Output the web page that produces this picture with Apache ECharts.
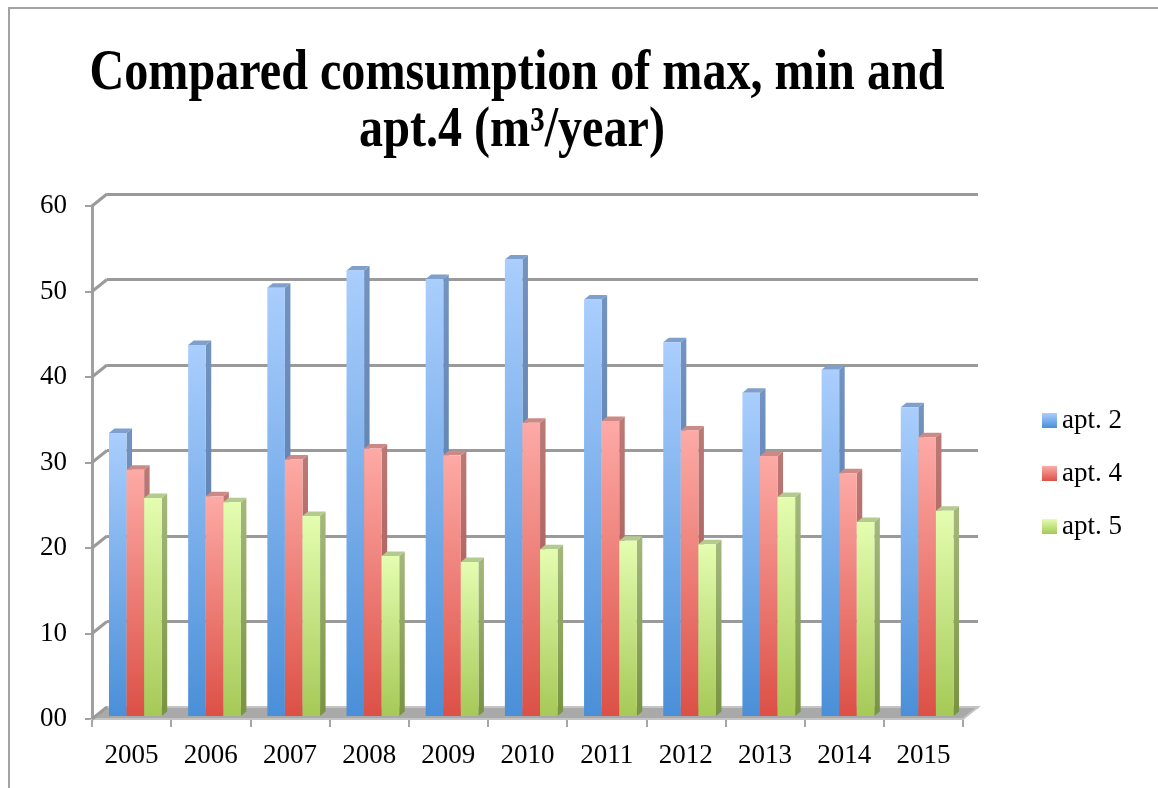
<!DOCTYPE html>
<html>
<head>
<meta charset="utf-8">
<script src="https://cdn.jsdelivr.net/npm/echarts@6/dist/echarts.min.js"></script>
<style>
  html, body { margin: 0; padding: 0; background: #fff; }
  #chart { width: 1158px; height: 788px; }
</style>
</head>
<body>
<div id="chart"></div>
<script>
const years = ['2005', '2006', '2007', '2008', '2009', '2010', '2011', '2012', '2013', '2014', '2015'];
const apt2 = [33.1, 43.4, 50.1, 52.1, 51.1, 53.4, 48.7, 43.7, 37.8, 40.5, 36.1];
const apt4 = [28.8, 25.7, 30.0, 31.3, 30.5, 34.3, 34.5, 33.4, 30.4, 28.4, 32.6];
const apt5 = [25.5, 25.0, 23.4, 18.7, 18.0, 19.5, 20.5, 20.1, 25.6, 22.7, 24.0];
const yTicks = [0, 10, 20, 30, 40, 50, 60];
const names = ['apt. 2', 'apt. 4', 'apt. 5'];

const FONT = '"Liberation Serif", "Times New Roman", serif';
const GRID_GRAY = '#9a9a9a';
// 3d look: offset of back wall from front plane, bars sit a bit inside
const DEPTH = [15, -12];
const BAR_SHIFT = [3.75, -3];
const BAR_DEPTH = [5.5, -4.5];
const BAR_W = 0.222;

const grad = (a, b) => ({
  type: 'linear', x: 0, y: 0, x2: 0, y2: 1,
  colorStops: [{ offset: 0, color: a }, { offset: 1, color: b }]
});

const faces = [
  { front: grad('#aacefd', '#4a8fd8'), side: grad('#7393c0', '#4f75a8'), top: '#7f9fcc' },
  { front: grad('#fdaaa6', '#dc5046'), side: grad('#bb7a76', '#a14f49'), top: '#cc8a86' },
  { front: grad('#e4fdb0', '#a6c957'), side: grad('#a4b87c', '#789341'), top: '#b5ca8f' }
];

function renderBar(k) {
  const f = faces[k];
  return function (params, api) {
    const i = api.value(0);
    const v = api.value(1);
    const base = api.coord([i, 0]);
    const top = api.coord([i, v]);
    const band = api.size([1, 0])[0];
    const w = band * BAR_W;
    const x0 = base[0] + band * (-1.5 * BAR_W + k * BAR_W) + BAR_SHIFT[0];
    const y0 = base[1] + BAR_SHIFT[1];
    const y1 = top[1] + BAR_SHIFT[1];
    const dx = BAR_DEPTH[0], dy = BAR_DEPTH[1];
    return {
      type: 'group',
      children: [
        { type: 'polygon', shape: { points: [[x0 + w, y1], [x0 + w + dx, y1 + dy], [x0 + w + dx, y0 + dy], [x0 + w, y0]] }, style: { fill: f.side } },
        { type: 'polygon', shape: { points: [[x0, y1], [x0 + dx, y1 + dy], [x0 + w + dx, y1 + dy], [x0 + w, y1]] }, style: { fill: f.top } },
        { type: 'rect', shape: { x: x0, y: y1, width: w, height: y0 - y1 }, style: { fill: f.front } }
      ]
    };
  };
}

// side wall diagonals + floor
function renderWalls(params, api) {
  const v = api.value(1);
  const band = api.size([1, 0])[0];
  const left = api.coord([0, v])[0] - band / 2;
  const y = api.coord([0, v])[1];
  const children = [{
    type: 'line',
    shape: { x1: left, y1: y, x2: left + DEPTH[0], y2: y + DEPTH[1] },
    style: { stroke: GRID_GRAY, lineWidth: 3 }
  }];
  if (v === 0) {
    const right = api.coord([years.length - 1, 0])[0] + band / 2;
    children.unshift({
      type: 'polygon',
      shape: { points: [[left, y], [right, y], [right + DEPTH[0], y + DEPTH[1]], [left + DEPTH[0], y + DEPTH[1]]] },
      style: { fill: '#a9a9a9', stroke: '#c4c4c4', lineWidth: 2 }
    });
  }
  return { type: 'group', children: children };
}

const seriesData = [apt2, apt4, apt5];

const chart = echarts.init(document.getElementById('chart'));
chart.setOption({
  animation: false,
  textStyle: { fontFamily: FONT },
  graphic: [
    { type: 'rect', silent: true, z: -10, shape: { x: 9, y: 8, width: 1200, height: 900 }, style: { fill: 'none', stroke: '#a3a3a3', lineWidth: 2 } },
    { type: 'text', x: 517, y: 74, scaleX: 0.83, style: { text: 'Compared comsumption of max, min and', font: 'bold 58px ' + FONT, fill: '#000', align: 'center', verticalAlign: 'middle' } },
    { type: 'text', x: 512, y: 131, scaleX: 0.83, style: { text: 'apt.4 (m³/year)', font: 'bold 58px ' + FONT, fill: '#000', align: 'center', verticalAlign: 'middle' } }
  ],
  legend: {
    data: names,
    orient: 'vertical',
    left: 1042,
    top: 407,
    padding: 0,
    itemGap: 26,
    itemWidth: 15,
    itemHeight: 15,
    icon: 'rect',
    textStyle: { fontFamily: FONT, fontSize: 27, color: '#000' }
  },
  grid: [
    { left: 92, width: 871, top: 206, bottom: 69 },
    { left: 107, width: 871, top: 194, bottom: 81 }
  ],
  xAxis: [
    {
      type: 'category', data: years, gridIndex: 0,
      axisLine: { show: true, lineStyle: { color: '#b8b8b8', width: 2 } },
      axisTick: { show: true, length: 8, lineStyle: { color: '#a6a6a6', width: 2 } },
      axisLabel: { fontSize: 27, color: '#000', margin: 23, fontFamily: FONT }
    },
    { type: 'category', data: years, gridIndex: 1, show: false }
  ],
  yAxis: [
    {
      type: 'value', gridIndex: 0, min: 0, max: 60, interval: 10,
      axisLine: { show: true, lineStyle: { color: '#a0a0a0', width: 3 } },
      axisTick: { show: true, length: 7, lineStyle: { color: '#a0a0a0', width: 2 } },
      splitLine: { show: false },
      axisLabel: {
        fontSize: 27, color: '#000', margin: 25, fontFamily: FONT,
        formatter: v => (v === 0 ? '00' : String(v))
      }
    },
    {
      type: 'value', gridIndex: 1, min: 0, max: 60, interval: 10,
      axisLine: { show: false }, axisTick: { show: false }, axisLabel: { show: false },
      splitLine: { show: true, lineStyle: { color: GRID_GRAY, width: 3 } }
    }
  ],
  series: [
    {
      type: 'custom', name: 'walls', silent: true,
      xAxisIndex: 0, yAxisIndex: 0, z: 1,
      renderItem: renderWalls,
      data: yTicks.map(v => [0, v])
    }
  ].concat(names.map((n, k) => ({
    type: 'custom', name: n, xAxisIndex: 0, yAxisIndex: 0, z: 3,
    itemStyle: { color: faces[k].front },
    renderItem: renderBar(k),
    data: seriesData[k].map((v, i) => [i, v])
  })))
});
</script>
</body>
</html>
